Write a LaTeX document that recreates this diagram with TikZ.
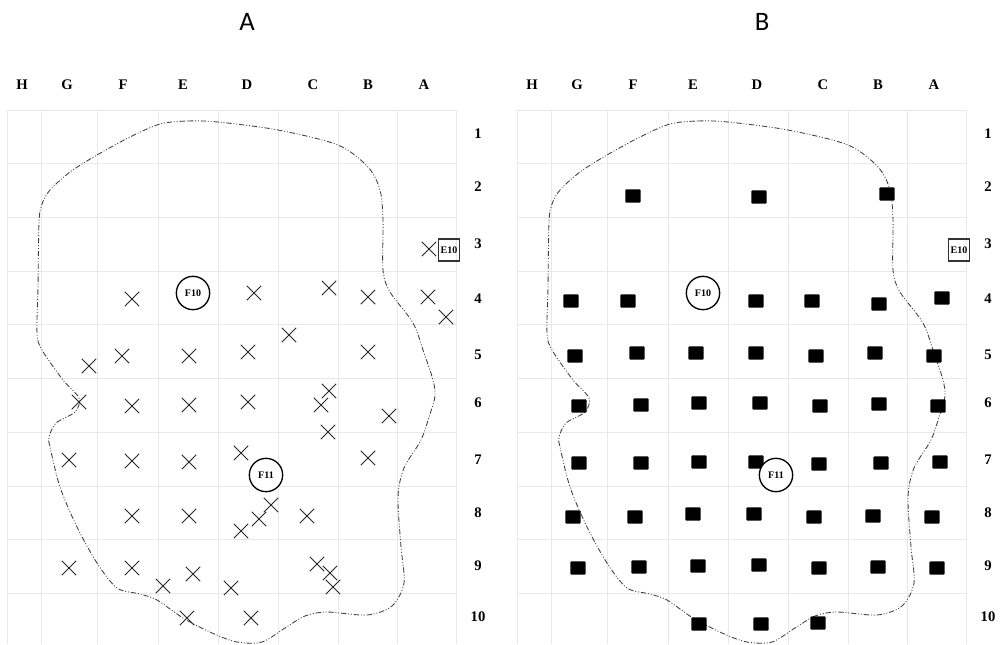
\documentclass[tikz,border=0pt]{standalone}
\usepackage{fontspec}
\setmainfont{Liberation Serif}
\newfontfamily\titlefont{Carlito}
\usetikzlibrary{shapes.misc}

\tikzset{
  gridline/.style={black!9, line width=0.5pt},
  collabel/.style={font=\bfseries\fontsize{11}{13}\selectfont},
  rowlabel/.style={font=\bfseries\fontsize{11}{13}\selectfont},
  paneltitle/.style={font=\titlefont\fontsize{20}{24}\selectfont},
  boundary/.style={black!75, line width=0.65pt,
    dash pattern=on 4pt off 1.4pt on 0.7pt off 1.4pt on 0.7pt off 1.4pt},
  wellcircle/.style={circle, draw, fill=white, line width=1pt, minimum size=25pt,
    inner sep=0pt, font=\bfseries\fontsize{7.5}{8}\selectfont},
  wellbox/.style={rectangle, draw=black!80, line width=1pt, minimum width=16pt,
    minimum height=16.5pt, inner sep=0pt, font=\bfseries\fontsize{7.5}{8}\selectfont},
  xmark/.style={cross out, draw=black!85, line width=0.75pt, minimum size=10pt, inner sep=0pt},
  sqmark/.style={rectangle, fill=black, rounded corners=0.8pt, minimum width=11.5pt,
    minimum height=10pt, inner sep=0pt},
}

\begin{document}
\begin{tikzpicture}[x=0.75pt,y=-0.75pt]
  \useasboundingbox (0,0) rectangle (1004,644);

  % the two panels: grid, labels and boundary
  \foreach \p/\dx/\ttl/\tx in {a/0/A/247,b/510/B/252} {
    \begin{scope}[shift={(\dx,0)}]
      \node[paneltitle] (\p-title) at (\tx,22) {\ttl};
      \foreach \gx in {7,41,97,158,218,278,338,397,456}
        \draw[gridline] (\gx,110) -- (\gx,644);
      \foreach \k in {0,...,9}
        \draw[gridline] (7,110+53.7*\k) -- (456,110+53.7*\k);
      \foreach \col/\cx in {H/22,G/67,F/123,E/183,D/247,C/313,B/368,A/424}
        \node[collabel] (\p-col\col) at (\cx,85) {\col};
      \foreach \r/\ry in {1/134,2/187,3/244,4/299,5/355,6/403,7/460,8/513,9/566,10/617}
        \node[rowlabel] (\p-row\r) at (478,\ry) {\r};
      \draw[boundary] plot[smooth cycle, tension=0.5] coordinates {
        (160,124) (188,121) (218,122) (278,130) (338,145) (368,167) (380,190)
        (383,220) (383,270) (390,292) (413,323) (424,353) (433,380) (435,396)
        (430,414) (421,440) (404,468) (398,497) (401,547) (404,583) (392,606)
        (367,615) (327,612) (305,616) (285,628) (262,642) (237,642) (212,633)
        (183,618) (157,600) (140,594) (117,588) (97,563) (77,527) (60,487)
        (50,447) (49,437) (56,423) (75,412) (79,398) (63,380) (42,350)
        (37,333) (38,287) (39,222) (42,204) (50,190) (70,172) (97,155) (130,137)};
    \end{scope}
  }

  % panel A: crosses
  \foreach \mx/\my [count=\n] in {429/249,132/299,254/293,329/288,368/297,428/297,
      446/317,289/335,122/356,89/366,189/356,248/352,368/352,329/391,79/402,
      132/406,189/405,248/402,321/405,389/416,328/432,69/460,132/461,189/462,
      241/453,368/458,271/505,259/519,241/531,307/516,132/516,189/516,69/568,
      132/568,193/574,163/586,231/588,317/564,330/573,333/587,187/618,251/618}
    \node[xmark] (x\n) at (\mx,\my) {};

  % panel B: squares
  \foreach \mx/\my [count=\n] in {633/196,759/197,887/194,
      571/301,628/301,756/301,812/301,879/304,942/298,
      575/356,637/353,696/353,756/353,816/356,875/353,934/356,
      579/406,641/405,699/403,760/403,820/406,879/404,938/406,
      579/463,641/463,699/462,756/462,819/464,881/463,940/462,
      573/517,635/517,693/514,754/514,814/517,873/516,932/517,
      578/568,639/567,698/566,759/565,819/568,878/567,937/568,
      699/624,761/624,818/623}
    \node[sqmark] (s\n) at (\mx,\my) {};

  % wells on top
  \foreach \p/\dx in {a/0,b/510} {
    \begin{scope}[shift={(\dx,0)}]
      \node[wellcircle] (\p-F10) at (193,293) {F10};
      \node[wellcircle] (\p-F11) at (266,475) {F11};
      \node[wellbox] (\p-E10) at (449,250) {E10};
    \end{scope}
  }
\end{tikzpicture}
\end{document}
